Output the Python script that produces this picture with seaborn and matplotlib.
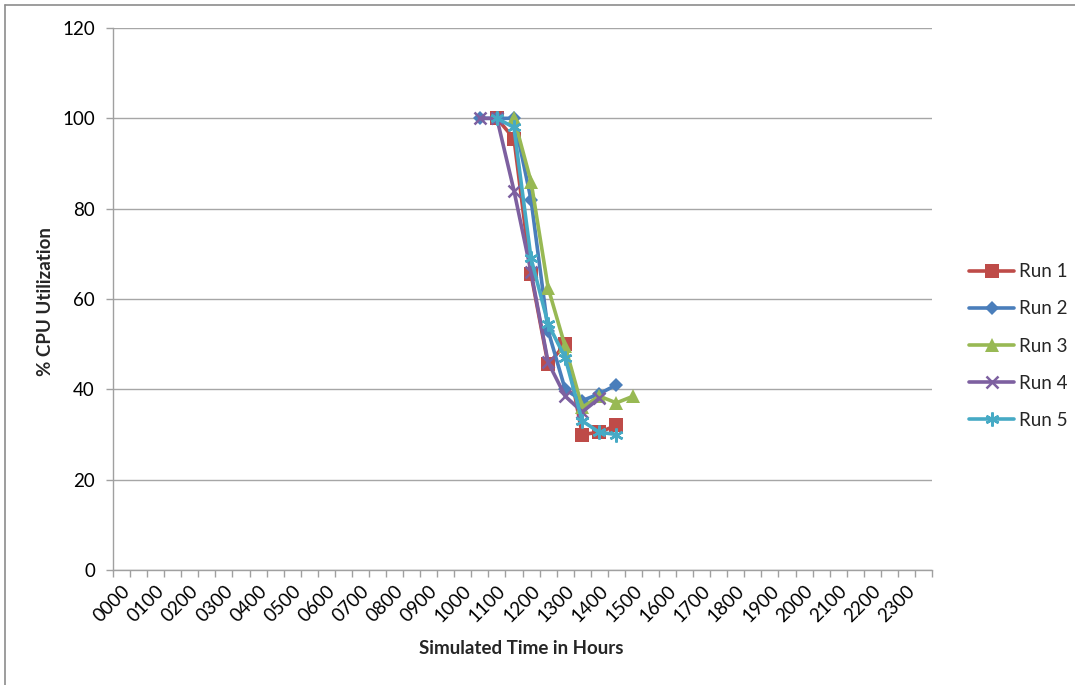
import matplotlib
matplotlib.use("Agg")
import matplotlib.pyplot as plt
import seaborn as sns
import pandas as pd
from matplotlib.lines import Line2D

# ---- data ----
hour_labels = ["0000", "0100", "0200", "0300", "0400", "0500", "0600", "0700",
               "0800", "0900", "1000", "1100", "1200", "1300", "1400", "1500",
               "1600", "1700", "1800", "1900", "2000", "2100", "2200", "2300"]
half_hours = ["00", "30"]

run1_times = ["1100", "1130", "1200", "1230", "1300", "1330", "1400", "1430"]
run1_vals = [100, 95.5, 65.5, 45.5, 50, 30, 30.5, 32]

run2_times = ["1030", "1100", "1130", "1200", "1230", "1300", "1330", "1400", "1430"]
run2_vals = [100, 100, 100, 82, 53, 40, 37.5, 39, 41]

run3_times = ["1130", "1200", "1230", "1300", "1330", "1400", "1430", "1500"]
run3_vals = [100, 86, 62.5, 49.5, 36, 38.5, 37, 38.5]

run4_times = ["1030", "1100", "1130", "1200", "1230", "1300", "1330", "1400"]
run4_vals = [100, 100, 84, 66, 46, 38.5, 35, 38]

run5_times = ["1100", "1130", "1200", "1230", "1300", "1330", "1400", "1430"]
run5_vals = [100, 98, 69, 54.5, 47, 33, 30.5, 30]

run_names = ["Run 1", "Run 2", "Run 3", "Run 4", "Run 5"]
run_colors = ["#BE4B48", "#4A7EBB", "#98B954", "#7D60A0", "#46AAC5"]

# category axis: every half hour
slots = [h[:2] + m for h in hour_labels for m in half_hours]

rows = []
for name, times, vals in zip(run_names,
                             [run1_times, run2_times, run3_times, run4_times, run5_times],
                             [run1_vals, run2_vals, run3_vals, run4_vals, run5_vals]):
    for t, v in zip(times, vals):
        rows.append({"Run": name, "Time": t, "pos": slots.index(t), "Util": v})
df = pd.DataFrame(rows)

# ---- style ----
sns.set_theme(style="white")
plt.rcParams["font.family"] = ["Lato", "DejaVu Sans"]

fig = plt.figure(figsize=(10.75, 6.85), dpi=100)
ax = fig.add_axes([113 / 1075, 1 - 570 / 685, (932 - 113) / 1075, (570 - 28) / 685])

markers = {
    "Run 1": dict(marker="s", markersize=10.5, markeredgewidth=0),
    "Run 2": dict(marker="D", markersize=7.5, markeredgewidth=0),
    "Run 3": dict(marker="^", markersize=10.5, markeredgewidth=0),
    "Run 4": dict(marker="x", markersize=9, markeredgewidth=1.8),
    "Run 5": dict(marker=(6, 2, 0), markersize=10, markeredgewidth=1.8),
}

for name, color in zip(run_names, run_colors):
    sub = df[df["Run"] == name]
    sns.lineplot(data=sub, x="pos", y="Util", ax=ax, color=color, linewidth=2.6,
                 label=name, markeredgecolor=color, markerfacecolor=color,
                 **markers[name])

ax.set_xlim(-0.5, len(slots) - 0.5)
ax.set_ylim(0, 120)
ax.set_yticks(range(0, 121, 20))
ax.set_xticks(range(0, len(slots), 2))
ax.set_xticklabels(hour_labels, rotation=45, ha="right", rotation_mode="anchor")
ax.set_xticks([i - 0.5 for i in range(len(slots) + 1)], minor=True)

ax.tick_params(axis="x", which="major", length=0, pad=9, labelsize=13.5, colors="black")
ax.tick_params(axis="x", which="minor", length=5, width=1, color="#a0a0a0", bottom=True)
ax.tick_params(axis="y", which="major", length=5, width=1, color="#a0a0a0",
               left=True, labelsize=13.5, pad=8, labelcolor="black")

ax.yaxis.grid(True, color="#a6a6a6", linewidth=1)
ax.set_axisbelow(True)
for s in ["top", "right"]:
    ax.spines[s].set_visible(False)
for s in ["left", "bottom"]:
    ax.spines[s].set_color("#a0a0a0")
    ax.spines[s].set_linewidth(1)

ax.set_xlabel("Simulated Time in Hours", fontsize=13.5, fontweight="bold")
ax.set_ylabel("% CPU Utilization", fontsize=13.5, fontweight="bold")
ax.xaxis.set_label_coords((521 - 113) / (932 - 113), -(648 - 570) / (570 - 28))
ax.yaxis.set_label_coords(-(113 - 45) / (932 - 113), (570 - 302) / (570 - 28))
ax.xaxis.label.set_va("center")
ax.yaxis.label.set_va("center")

ax.get_legend().remove()
handles = [Line2D([0], [0], color=c, linewidth=2.6, markeredgecolor=c, markerfacecolor=c,
                  **markers[n]) for n, c in zip(run_names, run_colors)]
fig.legend(handles, run_names, loc="center left", bbox_to_anchor=(969 / 1075, 1 - 346 / 685),
           frameon=False, fontsize=13.5, handlelength=2.4, handletextpad=0.25,
           labelspacing=1.07, borderpad=0, borderaxespad=0)

# chart border
fig.add_artist(Line2D([5 / 1075, 5 / 1075], [0, 1 - 5 / 685], color="#8c8c8c", linewidth=1.2,
                      transform=fig.transFigure))
fig.add_artist(Line2D([5 / 1075, 1], [1 - 5 / 685, 1 - 5 / 685], color="#8c8c8c",
                      linewidth=1.2, transform=fig.transFigure))

fig.savefig("out.png", dpi=100)
